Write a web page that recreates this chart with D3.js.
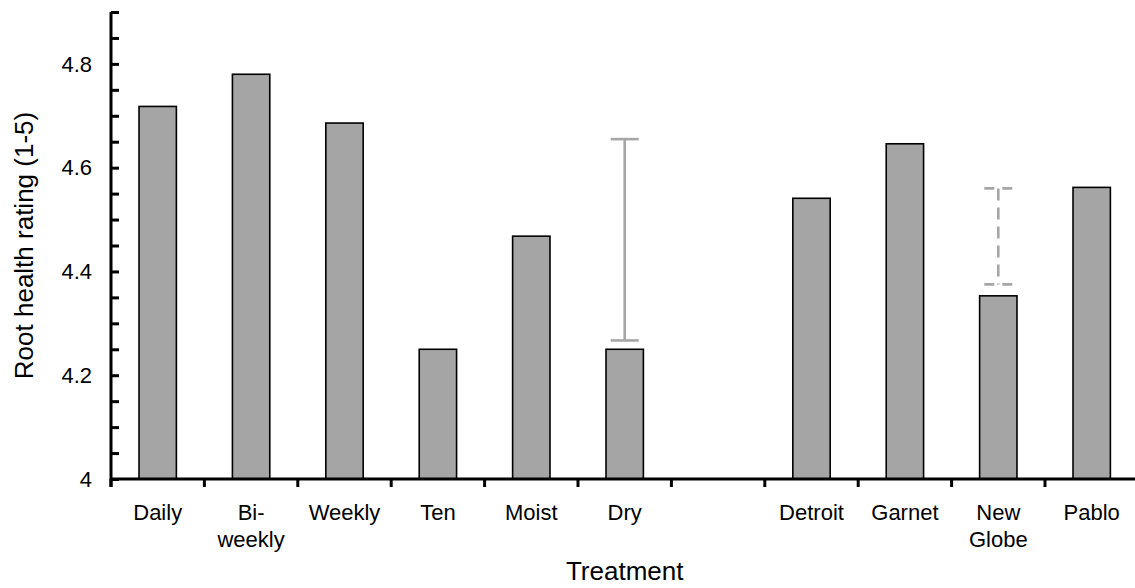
<!DOCTYPE html>
<html>
<head>
<meta charset="utf-8">
<script src="https://cdn.jsdelivr.net/npm/d3@7"></script>
<style>
  body { margin: 0; background: #fff; }
  svg { display: block; font-family: "Liberation Sans", Arial, sans-serif; }
</style>
</head>
<body>
<svg id="chart" width="1135" height="588"></svg>
<script>
var categories = ['Daily', 'Bi-weekly', 'Weekly', 'Ten', 'Moist', 'Dry', 'gap', 'Detroit', 'Garnet', 'New Globe', 'Pablo'];
var tickLabels = [['Daily'], ['Bi-', 'weekly'], ['Weekly'], ['Ten'], ['Moist'], ['Dry'], [], ['Detroit'], ['Garnet'], ['New', 'Globe'], ['Pablo']];
var values = [4.718, 4.780, 4.686, 4.250, 4.468, 4.250, null, 4.541, 4.646, 4.353, 4.562];

var yTicks = [4, 4.2, 4.4, 4.6, 4.8];
var yTickLabels = ['4', '4.2', '4.4', '4.6', '4.8'];

// grey range bars drawn above Dry (solid) and New Globe (dashed)
var rangeCats = ['Dry', 'New Globe'];
var rangeLow = [4.267, 4.375];
var rangeHigh = [4.655, 4.560];
var rangeDashed = [false, true];


var svg = d3.select('#chart');

var x = d3.scaleBand()
  .domain(categories)
  .range([111, 111 + 93.4 * categories.length])
  .paddingInner(0.6)
  .paddingOuter(0.3);

var y = d3.scaleLinear()
  .domain([4, 4.9])
  .range([479, 12]);

// bars
svg.append('g')
  .selectAll('rect')
  .data(categories.map(function(c, i) {
    return {cat: c, value: values[i]};
  }).filter(function(d) {
    return d.value != null;
  }))
  .join('rect')
    .attr('x', function(d) { return x(d.cat); })
    .attr('y', function(d) { return y(d.value); })
    .attr('width', x.bandwidth())
    .attr('height', function(d) { return y(4) - y(d.value); })
    .attr('fill', '#a5a5a5')
    .attr('stroke', '#000')
    .attr('stroke-width', 1.6);

// range bars
var ranges = svg.append('g')
  .selectAll('g')
  .data(rangeCats.map(function(c, i) {
    return {cat: c, lo: rangeLow[i], hi: rangeHigh[i], dashed: rangeDashed[i]};
  }))
  .join('g')
    .attr('stroke', '#a6a6a6')
    .attr('stroke-width', 2.6)
    .attr('fill', 'none');

ranges.each(function(d) {
  var g = d3.select(this);
  var cx = x(d.cat) + x.bandwidth() / 2;
  var capW = 14;
  g.append('line')
    .attr('x1', cx).attr('x2', cx)
    .attr('y1', y(d.hi)).attr('y2', y(d.lo))
    .attr('stroke-dasharray', d.dashed ? '12,7' : null);
  [d.hi, d.lo].forEach(function(v) {
    g.append('line')
      .attr('x1', cx - capW).attr('x2', cx + capW)
      .attr('y1', y(v)).attr('y2', y(v))
      .attr('stroke-dasharray', d.dashed ? '10,8' : null);
  });
});

// y axis
var yAxis = svg.append('g')
  .attr('transform', 'translate(' + x.range()[0] + ',0)')
  .call(d3.axisRight(y)
    .tickValues(d3.range(0, 19).map(function(i) { return 4 + i * 0.05; }))
    .tickSize(8)
    .tickSizeOuter(0)
    .tickFormat(''));

yAxis.select('.domain')
  .attr('stroke', '#000')
  .attr('stroke-width', 3)
  .attr('d', 'M0,' + y(4.9) + 'V' + (y(4) + 8));
yAxis.selectAll('.tick line')
  .attr('stroke', '#000')
  .attr('stroke-width', 3);

svg.append('g')
  .selectAll('text')
  .data(yTicks)
  .join('text')
    .attr('x', 92)
    .attr('y', function(d) { return y(d); })
    .attr('dy', '0.35em')
    .attr('text-anchor', 'end')
    .attr('font-size', 22)
    .text(function(d, i) { return yTickLabels[i]; });

// x axis
var xAxisG = svg.append('g')
  .attr('transform', 'translate(0,' + y(4) + ')');

xAxisG.append('line')
  .attr('x1', x.range()[0])
  .attr('x2', x.range()[1])
  .attr('stroke', '#000')
  .attr('stroke-width', 3);

xAxisG.selectAll('.xtick')
  .data(d3.range(0, categories.length + 1))
  .join('line')
    .attr('class', 'xtick')
    .attr('x1', function(i) { return x.range()[0] + i * x.step(); })
    .attr('x2', function(i) { return x.range()[0] + i * x.step(); })
    .attr('y1', 0)
    .attr('y2', 8)
    .attr('stroke', '#000')
    .attr('stroke-width', 3);

xAxisG.selectAll('.xlabel')
  .data(categories)
  .join('text')
    .attr('class', 'xlabel')
    .attr('text-anchor', 'middle')
    .attr('font-size', 22)
    .attr('transform', function(d) {
      return 'translate(' + (x(d) + x.bandwidth() / 2) + ',41)';
    })
    .each(function(d, i) {
      var t = d3.select(this);
      tickLabels[i].forEach(function(line, j) {
        t.append('tspan')
          .attr('x', 0)
          .attr('y', j * 27)
          .text(line);
      });
    });

// axis titles
svg.append('text')
  .attr('x', (x.range()[0] + x.range()[1]) / 2)
  .attr('y', 580)
  .attr('text-anchor', 'middle')
  .attr('font-size', 26)
  .text('Treatment');

svg.append('text')
  .attr('transform', 'translate(33,' + ((y(4) + y(4.9)) / 2) + ') rotate(-90)')
  .attr('text-anchor', 'middle')
  .attr('font-size', 26)
  .text('Root health rating (1-5)');
</script>
</body>
</html>
